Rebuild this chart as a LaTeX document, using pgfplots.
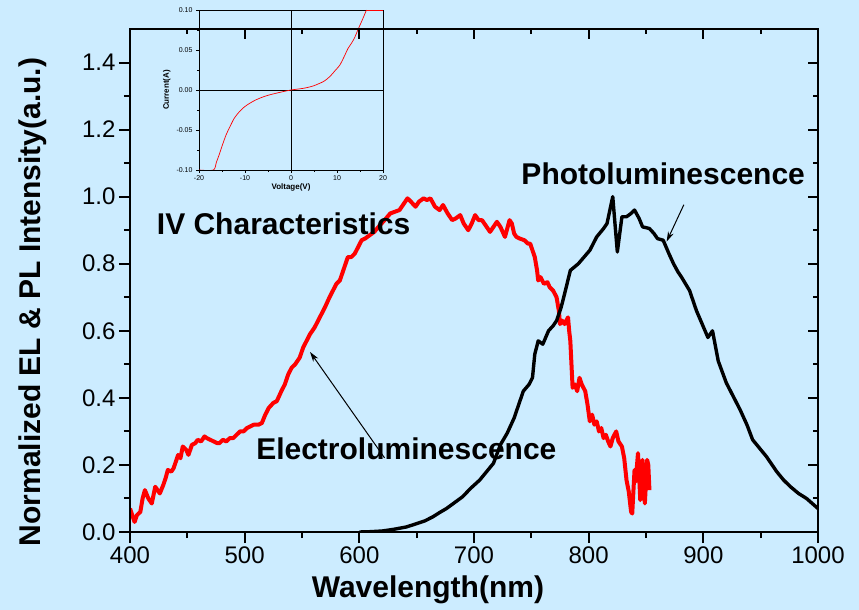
\documentclass[border=0pt]{standalone}
\usepackage{fontspec}
\setmainfont{Liberation Sans}
\usepackage{pgfplots}
\pgfplotsset{compat=1.18}
\usetikzlibrary{arrows.meta}
\definecolor{bgblue}{RGB}{204,236,255}

\begin{document}
\begin{tikzpicture}
\fill[bgblue] (0pt,0pt) rectangle (859pt,610pt);

% inset: I-V curve
\begin{axis}[
    at={(199pt,440pt)}, anchor=south west,
    scale only axis, width=184pt, height=160pt,
    xmin=-20, xmax=20, ymin=-0.1, ymax=0.1,
    xtick={-20,-10,0,10,20},
    ytick={-0.1,-0.05,0,0.05,0.1},
    minor x tick num=1, minor y tick num=1,
    xtick pos=bottom, ytick pos=left,
    tick align=outside,
    major tick length=3pt, minor tick length=2pt,
    axis line style={line width=0.8pt},
    every tick/.style={black, line width=0.6pt},
    /pgf/number format/assume math mode=true,
    tick label style={font=\fontsize{7}{7}\selectfont},
    yticklabel style={/pgf/number format/fixed, /pgf/number format/fixed zerofill, /pgf/number format/precision=2},
    xticklabel style={yshift=1pt},
    xlabel={Voltage(V)}, ylabel={Current(A)},
    label style={font=\bfseries\fontsize{8}{9}\selectfont},
    xlabel style={yshift=4pt},
    ylabel style={yshift=-1pt},
]
\addplot[black, line width=0.8pt] coordinates {(0,-0.1) (0,0.1)};
\addplot[black, line width=0.8pt] coordinates {(-20,0) (20,0)};
\addplot[red, line width=0.7pt, smooth] coordinates {
(-20,-0.1) (-16.9,-0.1) (-16.2,-0.09) (-15.5,-0.079) (-14.8,-0.067) (-14.1,-0.056)
(-13.2,-0.045) (-12.3,-0.035) (-11.2,-0.027) (-10.1,-0.021) (-8.8,-0.016)
(-7.5,-0.012) (-6.0,-0.0085) (-4.6,-0.006) (-3.2,-0.004) (-1.7,-0.002) (0,0)
(1.3,0.001) (2.6,0.002) (3.7,0.0033) (4.8,0.005) (5.9,0.0075) (7.0,0.0104)
(7.9,0.014) (8.8,0.019) (9.7,0.025) (10.6,0.031) (11.5,0.041) (12.4,0.052)
(13.1,0.058) (13.8,0.065) (14.6,0.076) (15.3,0.085) (15.9,0.093) (16.4,0.1) };
\addplot[red, line width=0.7pt] coordinates {(16.4,0.1) (20,0.1)};
\end{axis}

% main axis
\begin{axis}[
    at={(130pt,78pt)}, anchor=south west,
    scale only axis, width=688pt, height=503pt,
    xmin=400, xmax=1000, ymin=0, ymax=1.5,
    xtick={400,500,600,700,800,900,1000},
    ytick={0,0.2,0.4,0.6,0.8,1.0,1.2,1.4},
    minor x tick num=1, minor y tick num=1,
    xtick pos=bottom, ytick pos=left,
    tick align=outside,
    major tick length=11pt, minor tick length=6pt,
    axis line style={line width=2.4pt},
    every tick/.style={black, line width=2pt},
    /pgf/number format/assume math mode=true,
    tick label style={font=\fontsize{24}{24}\selectfont},
    yticklabel style={/pgf/number format/fixed, /pgf/number format/fixed zerofill, /pgf/number format/precision=1},
    xticklabel style={/pgf/number format/set thousands separator={}},
    xlabel={Wavelength(nm)},
    ylabel={Normalized EL \& PL Intensity(a.u.)},
    label style={font=\bfseries\fontsize{30}{30}\selectfont},
    xlabel style={at={(axis description cs:0.433,-0.115)}, anchor=center},
    ylabel style={at={(axis description cs:-0.141,0.457)}, anchor=center},
]
% electroluminescence
\addplot[red, line width=4pt, line join=round] coordinates {
(400,0.07) (402,0.05) (404,0.03) (406,0.05) (409,0.06) (411,0.10) (413,0.125)
(416,0.10) (419,0.085) (422,0.135) (424,0.125) (426,0.115) (429,0.14) (431,0.16)
(433,0.185) (436,0.18) (438,0.19) (440,0.21) (442,0.23) (444,0.22) (446,0.255)
(449,0.245) (451,0.23) (454,0.26) (457,0.265) (459,0.275) (462,0.27) (465,0.285)
(467,0.28) (470,0.275) (473,0.27) (476,0.265) (478,0.265) (481,0.275) (484,0.27)
(487,0.28) (490,0.28) (493,0.29) (496,0.30) (499,0.30) (502,0.31) (505,0.315)
(508,0.32) (512,0.32) (515,0.325) (518,0.35) (521,0.37) (525,0.385) (528,0.39)
(532,0.42) (535,0.44) (538,0.47) (541,0.49) (544,0.50) (548,0.52) (551,0.55)
(554,0.57) (557,0.59) (561,0.61) (564,0.63) (567,0.65) (570,0.67) (574,0.70)
(577,0.72) (580,0.74) (583,0.75) (586,0.78) (590,0.82) (593,0.82) (596,0.83)
(599,0.85) (602,0.87) (605,0.875) (609,0.885) (613,0.895) (618,0.915) (622,0.93)
(627,0.95) (631,0.955) (635,0.96) (638,0.975) (642,0.995) (645,0.985) (649,0.97)
(652,0.985) (656,0.995) (659,0.99) (662,0.995) (666,0.97) (670,0.96) (673,0.975)
(677,0.95) (681,0.93) (684,0.935) (688,0.945) (691,0.92) (695,0.90) (698,0.92)
(701,0.945) (704,0.93) (707,0.93) (711,0.91) (714,0.895) (717,0.91) (720,0.925)
(723,0.91) (727,0.88) (729,0.905) (731,0.93) (733,0.92) (735,0.89) (737,0.88)
(740,0.875) (744,0.87) (747,0.86) (749,0.86) (751,0.84) (753,0.82) (755,0.78)
(756,0.75) (758,0.76) (761,0.74) (764,0.745) (766,0.73) (769,0.72) (772,0.70)
(774,0.66) (775,0.62) (777,0.63) (779,0.62) (782,0.64) (783,0.60) (784,0.57)
(785,0.50) (786,0.43) (788,0.44) (790,0.42) (792,0.46) (794,0.44) (797,0.42)
(799,0.38) (801,0.33) (803,0.35) (805,0.32) (807,0.33) (809,0.30) (811,0.31)
(813,0.28) (815,0.29) (817,0.27) (819,0.255) (821,0.28) (824,0.30) (826,0.27)
(829,0.255) (831,0.22) (833,0.155) (835,0.12) (837,0.06) (838,0.055) (840,0.185)
(841,0.15) (843,0.235) (844,0.17) (845,0.095) (847,0.215) (849,0.085) (851,0.215)
(852,0.20) (853,0.125) };
% photoluminescence
\addplot[black, line width=3.4pt, line join=round] coordinates {
(600,0.0) (610,0.001) (620,0.003) (630,0.008) (641,0.015) (650,0.025) (657,0.033)
(664,0.045) (670,0.058) (676,0.07) (682,0.085) (690,0.105) (697,0.13) (705,0.155)
(711,0.18) (717,0.205) (723,0.26) (729,0.295) (735,0.34) (740,0.39) (743,0.42)
(748,0.44) (751,0.46) (753,0.53) (756,0.57) (760,0.56) (765,0.60) (769,0.615)
(772,0.63) (776,0.67) (779,0.71) (784,0.78) (791,0.80) (796,0.82) (801,0.84)
(807,0.88) (813,0.905) (816,0.92) (821,1.0) (825,0.835) (829,0.94) (833,0.94)
(837,0.95) (840,0.96) (844,0.935) (847,0.91) (853,0.905) (857,0.89) (860,0.875)
(865,0.87) (870,0.83) (874,0.80) (878,0.775) (881,0.76) (888,0.72) (894,0.66)
(899,0.62) (904,0.58) (908,0.60) (913,0.51) (920,0.445) (926,0.405) (932,0.365)
(938,0.32) (943,0.275) (949,0.25) (955,0.225) (960,0.20) (964,0.18) (970,0.155)
(976,0.135) (983,0.115) (990,0.10) (995,0.085) (1000,0.07) };

\node[font=\bfseries\fontsize{30}{30}\selectfont] at (axis cs:534,0.919) {IV Characteristics};
\node[font=\bfseries\fontsize{30}{30}\selectfont] at (axis cs:865,1.069) {Photoluminescence};
\node[font=\bfseries\fontsize{30}{30}\selectfont] at (axis cs:641,0.248) {Electroluminescence};
\draw[-{Stealth[length=10pt,width=6pt]}, line width=1pt] (axis cs:622,0.221) -- (axis cs:557,0.537);
\draw[-{Stealth[length=10pt,width=6pt]}, line width=1pt] (axis cs:883,0.976) -- (axis cs:868,0.866);
\end{axis}

% ticks on top and right, pointing inward
\begin{axis}[
    at={(130pt,78pt)}, anchor=south west,
    scale only axis, width=688pt, height=503pt,
    xmin=400, xmax=1000, ymin=0, ymax=1.5,
    xtick={400,500,600,700,800,900,1000},
    ytick={0,0.2,0.4,0.6,0.8,1.0,1.2,1.4},
    minor x tick num=1, minor y tick num=1,
    xtick pos=top, ytick pos=right,
    tick align=inside,
    major tick length=10pt, minor tick length=5pt,
    axis line style={line width=2.4pt},
    every tick/.style={black, line width=2pt},
    xticklabels={}, yticklabels={},
]
\end{axis}

\pgfresetboundingbox
\useasboundingbox (0pt,0pt) rectangle (859pt,610pt);
\end{tikzpicture}
\end{document}
